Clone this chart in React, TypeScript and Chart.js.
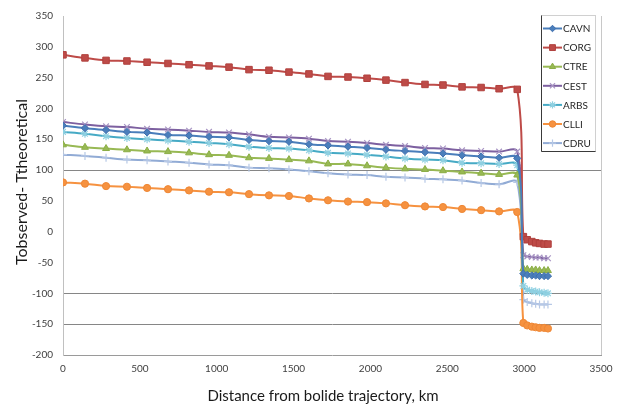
import React, { useEffect, useRef } from 'react';
import { Chart, registerables } from 'chart.js';
import { drawPoint } from 'chart.js/helpers';

Chart.register(...registerables);

// Distance from bolide trajectory, km
const distances = [
  0, 143, 280, 416, 547, 683, 820, 950, 1080, 1210, 1340, 1470, 1600, 1724, 1854, 1978,
  2101, 2225, 2355, 2472, 2596, 2720, 2837, 2955, 2995, 3020, 3050, 3075, 3100, 3130, 3155,
];

const seriesNames = ['CAVN', 'CORG', 'CTRE', 'CEST', 'ARBS', 'CLLI', 'CDRU'];

const cavn = [
  172, 168, 165, 162, 161, 157, 156, 154, 153, 149, 147, 146, 142, 140, 138, 136,
  133, 131, 129, 127, 124, 122, 120, 119, -68, -70, -71, -71, -72, -72, -72,
];
const corg = [
  287, 282, 278, 277, 275, 273, 271, 269, 267, 263, 262, 259, 256, 252, 251, 249,
  246, 242, 239, 238, 235, 234, 232, 231, -8, -13, -16, -18, -19, -20, -20,
];
const ctre = [
  141, 137, 135, 133, 131, 130, 128, 125, 124, 120, 119, 117, 115, 110, 110, 107,
  104, 102, 101, 99, 97, 95, 93, 92, -60, -61, -62, -62, -63, -63, -63,
];
const cest = [
  178, 174, 171, 170, 167, 166, 164, 162, 161, 158, 154, 153, 151, 147, 146, 144,
  141, 139, 136, 135, 132, 131, 130, 130, -38, -40, -41, -42, -42, -43, -43,
];
const arbs = [
  162, 159, 155, 152, 150, 148, 146, 144, 142, 138, 136, 135, 132, 128, 127, 125,
  122, 119, 117, 116, 112, 111, 110, 108, -88, -94, -96, -97, -98, -99, -100,
];
const clli = [
  80, 78, 74, 73, 71, 69, 67, 65, 64, 61, 59, 58, 54, 51, 49, 48,
  46, 43, 41, 40, 37, 35, 33, 32, -148, -152, -154, -155, -156, -156, -157,
];
const cdru = [
  125, 123, 120, 117, 116, 114, 112, 109, 108, 104, 103, 101, 98, 95, 93, 92,
  89, 88, 86, 85, 83, 79, 77, 80, -110, -114, -116, -117, -118, -118, -118,
];

const seriesValues = [cavn, corg, ctre, cest, arbs, clli, cdru];

const xTickMin = 0;
const xTickMax = 3500;
const xTickStep = 500;
const yTickMin = -200;
const yTickMax = 350;
const yTickStep = 50;
const gridValues = [100, -100, -150];

const xTitle = 'Distance from bolide trajectory, km';
const yTitle = 'Tobserved- Ttheoretical';

const FONT = 'Lato, "Open Sans", "DejaVu Sans", sans-serif';

const styles = [
  { line: '#4A7EBB', point: '#3F6FAE', fill: '#4A7EBB', shape: 'rectRot', r: 3.6, bw: 1 },
  { line: '#BE4B48', point: '#B0403D', fill: '#BE4B48', shape: 'rect', r: 4.6, bw: 1 },
  { line: '#98B954', point: '#8BAE46', fill: '#98B954', shape: 'triangle', r: 4, bw: 1 },
  { line: '#7D60A0', point: '#A895C4', fill: '#A895C4', shape: 'crossRot', r: 4, bw: 1.2 },
  { line: '#46AAC5', point: '#8FD0E1', fill: '#8FD0E1', shape: 'star', r: 4, bw: 1.2 },
  { line: '#F69240', point: '#EE8735', fill: '#F69240', shape: 'circle', r: 3.6, bw: 1 },
  { line: '#91ABD5', point: '#B6C8E6', fill: '#B6C8E6', shape: 'cross', r: 4, bw: 1.2 },
];

const framePlugin = {
  id: 'frame',
  afterDraw(chart: any) {
    const { ctx, chartArea } = chart;
    ctx.save();
    ctx.strokeStyle = '#C8C8C8';
    ctx.lineWidth = 1;
    ctx.beginPath();
    ctx.moveTo(Math.round(chartArea.right) + 0.5, chartArea.top);
    ctx.lineTo(Math.round(chartArea.right) + 0.5, chartArea.bottom);
    ctx.stroke();
    ctx.restore();
  },
};

const titlesPlugin = {
  id: 'titles',
  afterDraw(chart: any) {
    const { ctx } = chart;
    ctx.save();
    ctx.fillStyle = '#1a1a1a';
    ctx.textAlign = 'center';
    ctx.textBaseline = 'middle';
    ctx.font = `15px ${FONT}`;
    ctx.fillText(xTitle, 323, 396);
    ctx.translate(22, 182);
    ctx.rotate(-Math.PI / 2);
    ctx.font = `16px ${FONT}`;
    ctx.fillText(yTitle, 0, 0);
    ctx.restore();
  },
};

const legendPlugin = {
  id: 'customLegend',
  afterDraw(chart: any) {
    const { ctx } = chart;
    const bx = 541.5;
    const by = 15.5;
    const bw = 54;
    const bh = 136;
    ctx.save();
    ctx.fillStyle = '#ffffff';
    ctx.fillRect(bx, by, bw, bh);
    ctx.strokeStyle = '#d0d0d0';
    ctx.lineWidth = 1;
    ctx.strokeRect(bx, by, bw, bh);
    ctx.strokeStyle = '#3a3a3a';
    ctx.beginPath();
    ctx.moveTo(bx, by);
    ctx.lineTo(bx, by + bh);
    ctx.lineTo(bx + bw, by + bh);
    ctx.stroke();
    ctx.restore();
    seriesNames.forEach((name, i) => {
      const s = styles[i];
      const y = 28.5 + i * 19.1;
      ctx.save();
      ctx.strokeStyle = s.line;
      ctx.lineWidth = 2;
      ctx.beginPath();
      ctx.moveTo(543, y);
      ctx.lineTo(562, y);
      ctx.stroke();
      ctx.fillStyle = s.fill;
      ctx.strokeStyle = s.point;
      ctx.lineWidth = s.bw;
      drawPoint(ctx, {
        pointStyle: s.shape,
        radius: s.r * 0.9,
        rotation: 0,
        borderWidth: s.bw,
      } as any, 552.5, y);
      ctx.fillStyle = '#262626';
      ctx.font = `10px ${FONT}`;
      ctx.textAlign = 'left';
      ctx.textBaseline = 'middle';
      ctx.fillText(name, 563, y + 0.5);
      ctx.restore();
    });
  },
};

export default function App() {
  const ref = useRef<HTMLCanvasElement | null>(null);

  useEffect(() => {
    if (!ref.current) return;
    const datasets = seriesNames.map((name, i) => {
      const s = styles[i];
      return {
        label: name,
        data: seriesValues[i].map((v, j) => ({ x: distances[j], y: v })),
        borderColor: s.line,
        backgroundColor: s.fill,
        borderWidth: 2,
        pointStyle: s.shape as any,
        pointRadius: s.r,
        pointHoverRadius: s.r,
        pointBackgroundColor: s.fill,
        pointBorderColor: s.point,
        pointBorderWidth: s.bw,
        tension: 0.35,
        fill: false,
      };
    });

    const chart = new Chart(ref.current, {
      type: 'line',
      data: { datasets },
      options: {
        animation: false,
        responsive: false,
        devicePixelRatio: 1,
        layout: { padding: { top: 13, right: 20, left: 0, bottom: 0 } },
        plugins: {
          legend: { display: false },
          tooltip: { enabled: false },
          title: { display: false },
        },
        scales: {
          x: {
            type: 'linear',
            min: xTickMin,
            max: xTickMax,
            afterFit: (scale: any) => {
              scale.height = 52;
            },
            ticks: {
              stepSize: xTickStep,
              padding: 8,
              color: '#404040',
              font: { family: FONT, size: 10 },
              maxRotation: 0,
              callback: (v: any) => String(v),
            },
            grid: { display: false, drawTicks: false },
            border: { display: true, color: '#9a9a9a', width: 1 },
          },
          y: {
            type: 'linear',
            min: yTickMin,
            max: yTickMax,
            afterFit: (scale: any) => {
              scale.width = 63;
            },
            ticks: {
              stepSize: yTickStep,
              padding: 10,
              color: '#404040',
              font: { family: FONT, size: 10 },
              callback: (v: any) => String(v),
            },
            grid: {
              drawTicks: false,
              color: (ctx: any) =>
                ctx.tick && gridValues.includes(ctx.tick.value) ? '#868686' : 'rgba(0,0,0,0)',
              lineWidth: 1,
            },
            border: { display: true, color: '#C0C0C0', width: 1 },
          },
        },
      },
      plugins: [framePlugin, titlesPlugin, legendPlugin],
    });
    return () => chart.destroy();
  }, []);

  return (
    <div
      style={{
        position: 'fixed',
        left: 0,
        top: 0,
        width: 621,
        height: 407,
        background: '#ffffff',
      }}
    >
      <canvas ref={ref} width={621} height={407} style={{ display: 'block' }} />
    </div>
  );
}
